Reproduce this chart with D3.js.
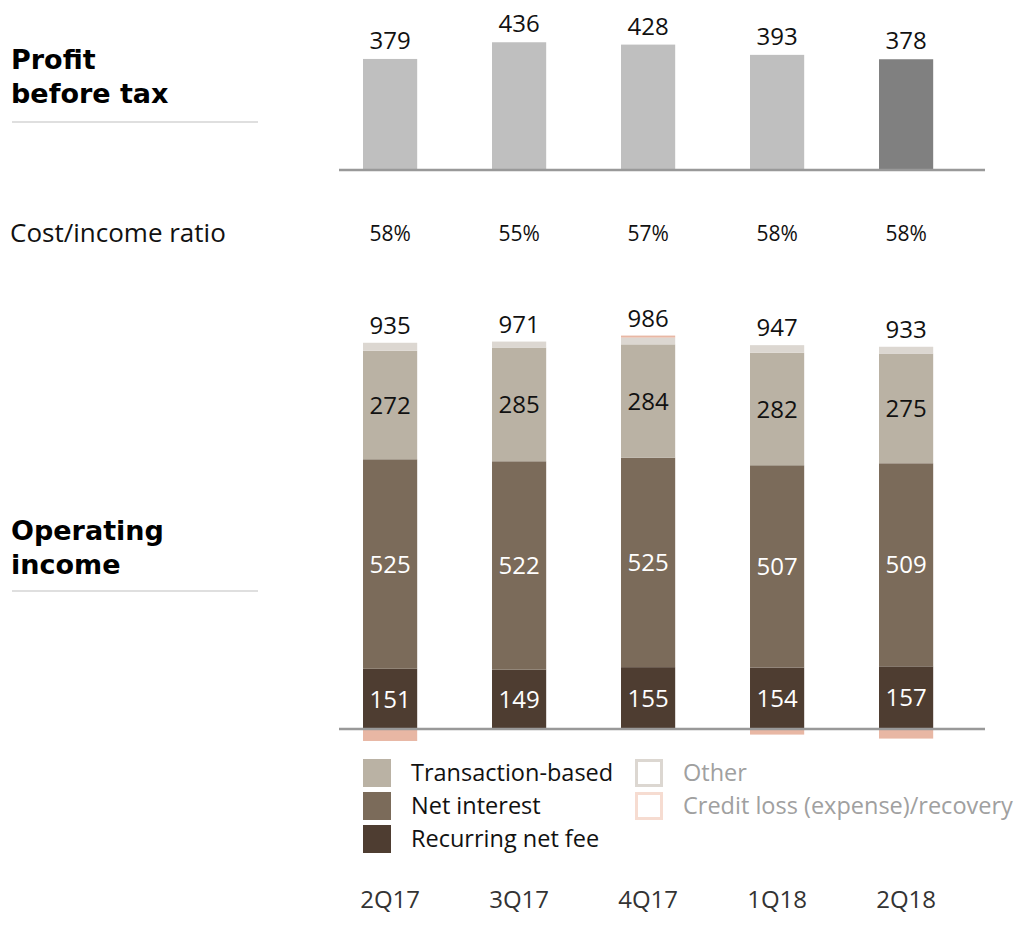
<!DOCTYPE html>
<html>
<head>
<meta charset="utf-8">
<script src="https://cdn.jsdelivr.net/npm/d3@7"></script>
<style>
  body { margin: 0; background: #fff; }
  svg { display: block; font-family: "Open Sans", sans-serif; }
</style>
</head>
<body>
<svg id="chart" width="1015" height="935"></svg>
<script>
var quarters = ['2Q17', '3Q17', '4Q17', '1Q18', '2Q18'];
var profitBeforeTax = [379, 436, 428, 393, 378];
var costIncomeRatio = ['58%', '55%', '57%', '58%', '58%'];

var recurringNetFee = [151, 149, 155, 154, 157];
var netInterest = [525, 522, 525, 507, 509];
var transactionBased = [272, 285, 284, 282, 275];
var other = [20, 15, 17, 19, 17];
var creditLoss = [-30, 0, 5, -14, -24];
var operatingIncome = [935, 971, 986, 947, 933];

var keys = ['recurring', 'interest', 'transaction', 'other', 'credit'];
var colors = {
  recurring: '#4e3d31',
  interest: '#7b6b5a',
  transaction: '#bab2a4',
  other: '#dcd7d1',
  credit: '#e8b7a4'
};

var rows = quarters.map(function(q, i) {
  return {
    quarter: q,
    recurring: recurringNetFee[i],
    interest: netInterest[i],
    transaction: transactionBased[i],
    other: other[i],
    credit: creditLoss[i]
  };
});

var svg = d3.select('#chart');

var x = d3.scaleBand()
  .domain(quarters)
  .range([325.6, 970.6])
  .paddingInner(0.58)
  .paddingOuter(0.29);

// top panel: profit before tax
var yTop = d3.scaleLinear().domain([0, 500]).range([170, 23.5]);

svg.selectAll('rect.pbt')
  .data(profitBeforeTax)
  .enter()
  .append('rect')
  .attr('class', 'pbt')
  .attr('x', (d, i) => x(quarters[i]))
  .attr('y', d => yTop(d))
  .attr('width', x.bandwidth())
  .attr('height', d => yTop(0) - yTop(d))
  .attr('fill', (d, i) => i === quarters.length - 1 ? '#808080' : '#bfbfbf');

svg.selectAll('text.pbt')
  .data(profitBeforeTax)
  .enter()
  .append('text')
  .attr('class', 'pbt')
  .attr('x', (d, i) => x(quarters[i]) + x.bandwidth() / 2)
  .attr('y', d => yTop(d) - 10)
  .attr('text-anchor', 'middle')
  .attr('font-size', 24)
  .attr('fill', '#111')
  .text(d => d);

svg.append('line')
  .attr('x1', 339).attr('x2', 985)
  .attr('y1', yTop(0)).attr('y2', yTop(0))
  .attr('stroke', '#999').attr('stroke-width', 2.5);

// cost/income ratio row
svg.append('text')
  .attr('x', 10).attr('y', 242)
  .attr('font-size', 26)
  .attr('fill', '#111')
  .text('Cost/income ratio');

svg.selectAll('text.cir')
  .data(costIncomeRatio)
  .enter()
  .append('text')
  .attr('class', 'cir')
  .attr('x', (d, i) => x(quarters[i]) + x.bandwidth() / 2)
  .attr('y', 241)
  .attr('text-anchor', 'middle')
  .attr('font-size', 21)
  .attr('fill', '#111')
  .text(d => d);

// bottom panel: operating income
var yBot = d3.scaleLinear().domain([0, 1000]).range([729, 330]);

var stacked = d3.stack()
  .keys(keys)
  .offset(d3.stackOffsetDiverging)(rows);

var layer = svg.selectAll('g.layer')
  .data(stacked)
  .enter()
  .append('g')
  .attr('class', 'layer')
  .attr('fill', d => colors[d.key]);

layer.selectAll('rect')
  .data(d => d)
  .enter()
  .append('rect')
  .attr('x', d => x(d.data.quarter))
  .attr('y', d => yBot(d[1]))
  .attr('width', x.bandwidth())
  .attr('height', d => yBot(d[0]) - yBot(d[1]));

var labelled = [
  {key: 'transaction', fill: '#111'},
  {key: 'interest', fill: '#fff'},
  {key: 'recurring', fill: '#fff'}
];

labelled.forEach(function(l) {
  var s = stacked.find(d => d.key === l.key);
  svg.selectAll('text.seg-' + l.key)
    .data(s)
    .enter()
    .append('text')
    .attr('class', 'seg-' + l.key)
    .attr('x', d => x(d.data.quarter) + x.bandwidth() / 2)
    .attr('y', d => (yBot(d[0]) + yBot(d[1])) / 2)
    .attr('dy', '0.36em')
    .attr('text-anchor', 'middle')
    .attr('font-size', 24)
    .attr('fill', l.fill)
    .text(d => d.data[l.key]);
});

var tops = rows.map(function(r, i) {
  var t = 0;
  stacked.forEach(function(s) { t = Math.max(t, s[i][1]); });
  return t;
});

svg.selectAll('text.total')
  .data(operatingIncome)
  .enter()
  .append('text')
  .attr('class', 'total')
  .attr('x', (d, i) => x(quarters[i]) + x.bandwidth() / 2)
  .attr('y', (d, i) => yBot(tops[i]) - 9)
  .attr('text-anchor', 'middle')
  .attr('font-size', 24)
  .attr('fill', '#111')
  .text(d => d);

svg.append('line')
  .attr('x1', 339).attr('x2', 985)
  .attr('y1', yBot(0)).attr('y2', yBot(0))
  .attr('stroke', '#999').attr('stroke-width', 2.5);

// left titles
function title(lines, y0) {
  lines.forEach(function(s, i) {
    svg.append('text')
      .attr('x', 11).attr('y', y0 + i * 34)
      .attr('font-family', '"DejaVu Sans", sans-serif')
      .attr('font-size', 27)
      .attr('font-weight', 'bold')
      .attr('fill', '#000')
      .text(s);
  });
}
title(['Profit', 'before tax'], 69);
title(['Operating', 'income'], 540);

[122, 591].forEach(function(y) {
  svg.append('line')
    .attr('x1', 12).attr('x2', 258)
    .attr('y1', y).attr('y2', y)
    .attr('stroke', '#d4d4d4').attr('stroke-width', 1.5);
});

// legend
var legendItems = [
  {label: 'Transaction-based', key: 'transaction', col: 0, row: 0, filled: true},
  {label: 'Net interest', key: 'interest', col: 0, row: 1, filled: true},
  {label: 'Recurring net fee', key: 'recurring', col: 0, row: 2, filled: true},
  {label: 'Other', key: 'other', col: 1, row: 0, filled: false},
  {label: 'Credit loss (expense)/recovery', key: 'credit', col: 1, row: 1, filled: false}
];
var legendX = [363, 635];
var outline = {other: '#dcd7d1', credit: '#f6dcd1'};

var lg = svg.selectAll('g.legend')
  .data(legendItems)
  .enter()
  .append('g')
  .attr('class', 'legend')
  .attr('transform', d => 'translate(' + legendX[d.col] + ',' + (759 + d.row * 33) + ')');

lg.append('rect')
  .attr('x', d => d.filled ? 0 : 1.5)
  .attr('y', d => d.filled ? 0 : 1.5)
  .attr('width', d => d.filled ? 28 : 25)
  .attr('height', d => d.filled ? 28 : 25)
  .attr('fill', d => d.filled ? colors[d.key] : '#fff')
  .attr('stroke', d => d.filled ? 'none' : outline[d.key])
  .attr('stroke-width', 3);

lg.append('text')
  .attr('x', 48)
  .attr('y', 14)
  .attr('dy', '0.36em')
  .attr('font-size', 23.5)
  .attr('fill', d => d.filled ? '#111' : '#a0a0a0')
  .text(d => d.label);

// category axis at the bottom
var xAxis = svg.append('g')
  .attr('transform', 'translate(0,891)')
  .call(d3.axisBottom(x).tickSize(0).tickPadding(0));
xAxis.select('.domain').remove();
xAxis.selectAll('text')
  .attr('font-family', '"Open Sans", sans-serif')
  .attr('font-size', 24)
  .attr('fill', '#333');
</script>
</body>
</html>
